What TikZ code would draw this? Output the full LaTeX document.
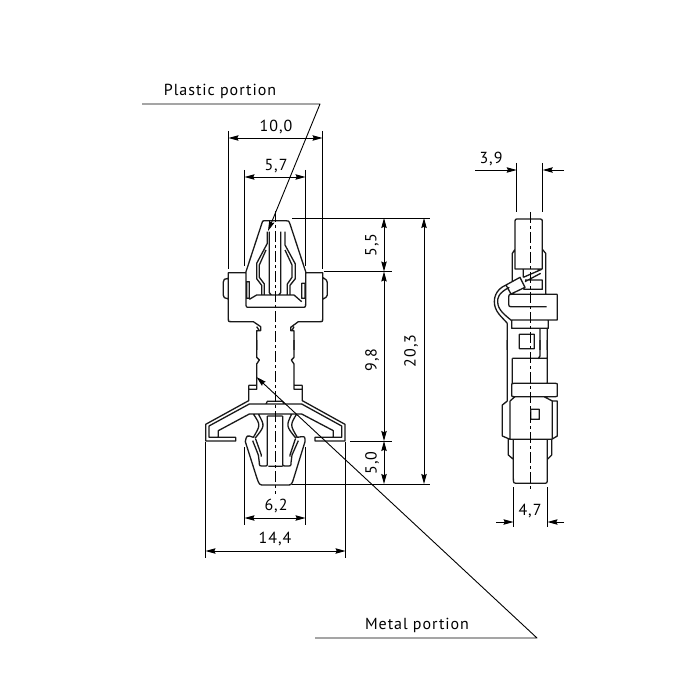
\documentclass[tikz,border=0pt]{standalone}
\usepackage{fontspec}
\setmainfont[LetterSpace=6]{PT Sans}
\usetikzlibrary{arrows.meta, calc, positioning}

\begin{document}
\begin{tikzpicture}[x=1pt, y=-1pt, >={Stealth[length=10pt, width=5.4pt, inset=1.2pt]}, line join=round]
	\tikzstyle{part} = [draw, line width=1.3pt, black!90]
	\tikzstyle{axis} = [draw, line width=0.9pt, black, dash pattern=on 11pt off 3pt on 3pt off 3pt]
	\tikzstyle{thin} = [draw, line width=0.9pt, black]
	\tikzstyle{dimline} = [draw, line width=0.9pt, black, <->]
	\tikzstyle{label} = [inner sep=0pt, font=\fontsize{16}{18}\selectfont, text=black]
	\tikzstyle{vlabel} = [label, rotate=90]

	\useasboundingbox (0,0) rectangle (700,700);

	% front view, upper part
	\begin{scope}[shift={(190,200)}, scale=1/3]
		\path[part]
			(168,215) -- (215,72) .. controls (218,62) .. (228,62) -- (286,62) .. controls (296,62) .. (300,72) -- (347,215)
			(168,215) -- (168,310) .. controls (168,322) .. (180,322) -- (335,322) .. controls (347,322) .. (347,310) -- (347,215)
			(168,218) -- (115,218) -- (115,355) .. controls (115,365) .. (125,365) -- (190,365) -- (212,380) -- (212,392) -- (200,392) -- (200,450)
			(347,218) -- (398,218) -- (398,355) .. controls (398,365) .. (388,365) -- (325,365) -- (302,382) -- (302,392) -- (312,392) -- (312,450)
			(200,380) -- (208,392)
			(312,380) -- (306,392)
			(115,235) -- (103,238) -- (100,246) -- (100,286) -- (103,293) -- (115,297)
			(398,232) -- (409,240) -- (412,248) -- (412,285) -- (408,292) -- (398,298)
			(170,245) rectangle (178,295)
			(335,250) rectangle (345,295)
			(178,298) -- (200,285) -- (312,285) -- (335,305)
			(232,95) -- (232,130) -- (200,190) -- (200,236) -- (215,256) -- (215,285)
			(228,150) -- (208,195) -- (208,232) -- (223,252) -- (223,285)
			(238,95) -- (238,278) -- (244,285)
			(272,95) -- (272,278) -- (266,285)
			(285,95) -- (285,135) -- (316,192) -- (316,236) -- (300,256) -- (300,285)
			(285,150) -- (306,195) -- (306,232) -- (292,252) -- (292,285)
		;
	\end{scope}

	% front view, lower part
	\begin{scope}[shift={(190,340)}, scale=1/3]
		\path[part]
			(200,0) -- (200,52) -- (208,60) -- (200,72) -- (200,148) -- (176,148)
			(312,0) -- (312,52) -- (304,60) -- (312,72) -- (312,148) -- (337,148)
			(176,136) -- (200,136)
			(312,136) -- (337,136)
			(176,136) -- (176,182) -- (47,253) -- (47,303) -- (137,303) -- (137,292) -- (85,292) -- (85,272) -- (178,222) -- (335,222) -- (430,272) -- (430,292) -- (375,292) -- (375,303) -- (465,303) -- (465,253) -- (337,182) -- (337,136)
			(178,192) -- (57,258) -- (57,292) -- (85,292)
			(335,192) -- (455,258) -- (455,292) -- (430,292)
			(178,192) -- (335,192)
			(228,192) -- (232,184) -- (278,184) -- (282,192)
			(190,222) .. controls (212,255) .. (190,292) .. controls (170,285) .. (166,305)
			(166,305) -- (200,412) .. controls (208,435) .. (222,435) -- (290,435) .. controls (305,435) .. (312,412) -- (345,305) .. controls (345,290) .. (335,290) .. controls (326,290) .. (322,292) .. controls (300,255) .. (320,222)
			(205,222) .. controls (225,258) .. (195,295)
			(305,222) .. controls (288,258) .. (318,295)
			(232,228) -- (278,228)
			(232,228) -- (232,368) .. controls (232,378) .. (222,378) .. controls (208,378) .. (208,368) -- (205,345) -- (188,302)
			(278,228) -- (278,368) .. controls (278,378) .. (290,378) .. controls (303,378) .. (303,368) -- (306,345) -- (325,302)
			(197,297) -- (214,345) -- (214,350)
			(316,297) -- (300,345) -- (300,350)
			(235,379) -- (278,379)
		;
	\end{scope}

	% side view, upper part
	\begin{scope}[shift={(470,200)}, scale=1/3]
		\path[part]
			(135,207) -- (135,70) .. controls (135,57) .. (147,57) -- (205,57) .. controls (217,57) .. (217,70) -- (217,207) -- cycle
			(135,148) -- (127,160) -- (127,245)
			(217,148) -- (227,160) -- (227,283)
			(160,207) -- (160,232)
			(205,207) -- (205,214)
			(165,240) -- (217,240) -- (217,268) -- (160,268)
			(150,232) -- (108,255) -- (123,282) -- (165,262) -- cycle
			(165,245) -- (212,220)
			(160,232) -- (215,208)
			(108,255) .. controls (73,270) and (73,300) .. (73,305) .. controls (73,335) and (95,350) .. (112,370)
			(118,262) .. controls (83,280) and (83,295) .. (83,305) .. controls (83,330) and (105,345) .. (125,362)
			(262,283) -- (125,283) .. controls (116,283) .. (116,302) .. controls (116,320) .. (125,320) -- (230,320)
			(262,283) -- (262,360) -- (125,360)
			(125,360) -- (125,385) -- (235,385) -- (235,360)
			(112,370) -- (112,450)
			(210,385) -- (210,450)
			(232,385) -- (232,450)
			(148,403) rectangle (193,446)
		;
	\end{scope}

	% side view, lower part
	\begin{scope}[shift={(470,340)}, scale=1/3]
		\path[part]
			(112,0) -- (112,183)
			(232,0) -- (232,130)
			(210,0) -- (210,48) -- (204,56)
			(127,55) -- (232,55)
			(127,55) -- (127,130)
			(132,130) -- (256,130) .. controls (262,130) .. (262,136) -- (262,164) .. controls (262,170) .. (256,170) -- (132,170) .. controls (125,170) .. (125,164) -- (125,136) .. controls (125,130) .. (132,130)
			(112,183) -- (97,195) -- (97,288) -- (120,298) -- (245,298) -- (262,288) -- (262,183) -- (247,183) -- (222,170)
			(120,183) -- (120,298)
			(247,183) -- (247,298)
			(120,183) -- (135,170)
			(182,208) rectangle (208,238)
			(115,298) -- (115,345) -- (130,358)
			(245,298) -- (245,345) -- (232,358)
			(130,298) -- (130,415) .. controls (130,430) .. (146,430) -- (218,430) .. controls (232,430) .. (232,415) -- (232,298)
		;
	\end{scope}

	% center lines
	\coordinate (frontTop) at (275,211);
	\coordinate (frontEnd) at (275,494);
	\coordinate (sideTop) at (530,212);
	\coordinate (sideEnd) at (530,492);
	\path[axis] (frontTop) -- (frontEnd);
	\path[axis] (sideTop) -- (sideEnd);

	% extension lines
	\foreach \x/\ya/\yb in {228.5/131/269, 322.5/131/269, 244.5/170/266, 305.5/170/266, 205.5/442/558, 345.5/442/558, 244.5/447/525, 305.5/447/525, 516.7/163/212, 542.7/163/212, 513.5/487/527, 547.5/487/527} {
		\coordinate (extA) at (\x,\ya);
		\coordinate (extB) at (\x,\yb);
		\path[thin] (extA) -- (extB);
	}
	\foreach \y/\xa/\xb in {218/292/430, 271.5/324/392, 441/350/392, 484/292/430} {
		\coordinate (extA) at (\xa,\y);
		\coordinate (extB) at (\xb,\y);
		\path[thin] (extA) -- (extB);
	}

	% dimensions
	\coordinate (w10a) at (228.5,138);
	\coordinate (w10b) at (322.5,138);
	\coordinate (w57a) at (244.5,177);
	\coordinate (w57b) at (305.5,177);
	\coordinate (w62a) at (244.5,518);
	\coordinate (w62b) at (305.5,518);
	\coordinate (w144a) at (205.5,551);
	\coordinate (w144b) at (345.5,551);
	\coordinate (h55a) at (384,218);
	\coordinate (h55b) at (384,271.5);
	\coordinate (h98b) at (384,441);
	\coordinate (h50b) at (384,484);
	\coordinate (h203a) at (424,218);
	\coordinate (h203b) at (424,484);
	\path[dimline] (w10a) -- (w10b);
	\path[dimline] (w57a) -- (w57b);
	\path[dimline] (w62a) -- (w62b);
	\path[dimline] (w144a) -- (w144b);
	\path[dimline] (h55a) -- (h55b);
	\path[dimline] (h55b) -- (h98b);
	\path[dimline] (h98b) -- (h50b);
	\path[dimline] (h203a) -- (h203b);

	\coordinate (t39a) at (475,170);
	\coordinate (t39b) at (516.7,170);
	\coordinate (t39c) at (564,170);
	\coordinate (t39d) at (542.7,170);
	\coordinate (t47a) at (496,522);
	\coordinate (t47b) at (513.5,522);
	\coordinate (t47c) at (564,522);
	\coordinate (t47d) at (547.5,522);
	\path[thin, ->] (t39a) -- (t39b);
	\path[thin, ->] (t39c) -- (t39d);
	\path[thin, ->] (t47a) -- (t47b);
	\path[thin, ->] (t47c) -- (t47d);

	% leaders
	\coordinate (plasticA) at (142,104);
	\coordinate (plasticB) at (320,104);
	\coordinate (plasticTip) at (268,231);
	\coordinate (metalA) at (315,638);
	\coordinate (metalB) at (537,638);
	\coordinate (metalTip) at (256.5,377);
	\path[thin, ->] (plasticA) -- (plasticB) -- (plasticTip);
	\path[thin, ->] (metalA) -- (metalB) -- (metalTip);

	% labels
	\node[label] (plastic) at (220,91) {Plastic portion};
	\node[label] (metal) at (417,625) {Metal portion};
	\node[label] (d100) at (276,127) {10,0};
	\node[label] (d57) at (276,166.5) {5,7};
	\node[label] (d62) at (276,506) {6,2};
	\node[label] (d144) at (275,539) {14,4};
	\node[label] (d39) at (491,159) {3,9};
	\node[label] (d47) at (530,511) {4,7};
	\node[vlabel] (d55) at (372,245) {5,5};
	\node[vlabel] (d98) at (372,360) {9,8};
	\node[vlabel] (d50) at (372,463) {5,0};
	\node[vlabel] (d203) at (411,351) {20,3};
\end{tikzpicture}
\end{document}
